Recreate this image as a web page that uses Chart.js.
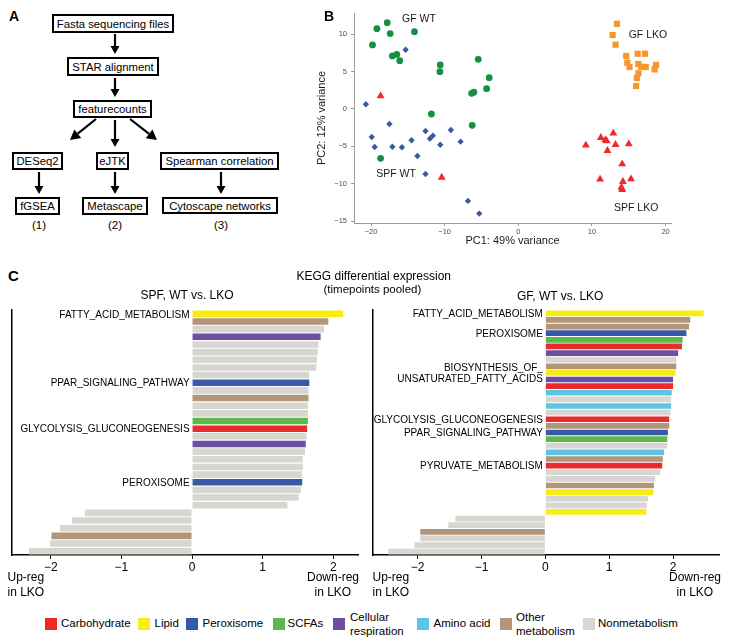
<!DOCTYPE html>
<html>
<head>
<meta charset="utf-8">
<script src="https://cdn.jsdelivr.net/npm/chart.js@4.4.1/dist/chart.umd.min.js"></script>
<style>
body { margin: 0; background: #fff; font-family: Arial, "Liberation Sans", sans-serif; }
#fig { position: relative; width: 733px; height: 644px; overflow: hidden; }
.t { position: absolute; white-space: nowrap; color: #000; line-height: 1; }
.box { position: absolute; border: 2px solid #000; box-sizing: border-box; font-size: 11.3px;
       display: flex; align-items: center; justify-content: center; white-space: nowrap; }
.sq { position: absolute; width: 12px; height: 12px; }
canvas { position: absolute; }
</style>
</head>
<body>
<div id="fig">
  <svg id="arrows" width="330" height="240" style="position:absolute;left:0;top:0"></svg>
  <canvas id="pca" width="433" height="250" style="left:300px;top:0"></canvas>
  <canvas id="spf" width="366" height="280" style="left:0;top:300px"></canvas>
  <canvas id="gf" width="366" height="280" style="left:366px;top:300px"></canvas>
</div>
<script>
// ---- panel B: PCA scores ----
var gfWtPC1  = [-19.2, -17.8, -17.4, -14.1, -19.8, -17.1, -16.5, -16.1, -10.6, -10.65, -5.44, -3.95, -4.3, -6.34, -6.03, -11.8, -6.26, -18.7];
var gfWtPC2  = [10.75, 11.55, 10.1, 10.35, 8.57, 7.1, 7.3, 6.47, 5.9, 5.0, 6.65, 4.19, 2.72, 2.1, 2.24, -0.67, -2.18, -6.6];
var spfWtPC1 = [-15.3, -20.7, -17.5, -19.9, -19.5, -17.1, -15.8, -14.5, -13.7, -12.6, -12.0, -11.6, -10.6, -9.16, -7.84, -12.6, -6.84, -5.3];
var spfWtPC2 = [7.94, 0.63, -2.0, -3.75, -5.09, -5.05, -5.13, -4.19, -6.29, -2.95, -3.97, -3.57, -4.78, -2.81, -4.37, -8.7, -12.3, -14.0];
var gfKoPC1  = [13.4, 12.8, 13.2, 14.65, 16.2, 17.2, 14.8, 15.1, 16.3, 16.65, 17.3, 18.7, 18.5, 16.3, 16.1, 16.0];
var gfKoPC2  = [11.4, 9.9, 8.61, 7.1, 7.4, 7.4, 6.2, 5.62, 6.02, 5.66, 5.62, 5.89, 5.31, 4.78, 4.15, 3.08];
var spfKoPC1 = [-18.7, -10.4, 9.17, 11.2, 11.8, 12.0, 12.9, 13.2, 15.0, 12.1, 14.1, 11.1, 14.2, 15.3, 14.0, 14.1];
var spfKoPC2 = [1.74, -9.15, -4.86, -3.84, -4.15, -4.28, -3.25, -4.78, -4.69, -5.58, -7.36, -9.41, -9.73, -9.37, -10.5, -10.8];
var pcaXTicks = [-20, -10, 0, 10, 20];
var pcaYTicks = [-15, -10, -5, 0, 5, 10];

// ---- panel C: KEGG pathway scores ----
var spfScores = [2.14, 1.93, 1.87, 1.82, 1.79, 1.78, 1.77, 1.76, 1.66, 1.66, 1.65, 1.65, 1.64, 1.64, 1.64, 1.63,
                 1.62, 1.61, 1.60, 1.57, 1.57, 1.56, 1.56, 1.54, 1.51, 1.35, -1.52, -1.70, -1.87, -1.99, -2.01, -2.31];
var spfClass = ['lip','oth','non','res','non','non','non','non','non','per','non','oth','non','non','scf','car',
                'non','res','non','non','non','non','per','non','non','non','non','non','non','oth','non','non'];
var spfNames = ['FATTY_ACID_METABOLISM','','','','','','','','','PPAR_SIGNALING_PATHWAY','','','','','','GLYCOLYSIS_GLUCONEOGENESIS',
                '','','','','','','PEROXISOME','','','','','','','','',''];

var gfScores = [2.48, 2.27, 2.25, 2.21, 2.15, 2.14, 2.08, 2.05, 2.05, 2.04, 2.00, 2.00, 1.98, 1.97, 1.97, 1.96, 1.94, 1.94,
                1.92, 1.91, 1.91, 1.86, 1.84, 1.83, 1.80, 1.72, 1.70, 1.69, 1.61, 1.59, 1.58, -1.41, -1.52, -1.96, -1.96, -2.05, -2.46];
var gfClass = ['lip','oth','oth','per','scf','car','res','non','oth','lip','res','car','ami','non','ami','non','car','oth',
               'per','scf','non','ami','oth','car','non','non','oth','lip','non','non','lip','non','non','oth','non','non','non'];
var gfNames = ['FATTY_ACID_METABOLISM','','','PEROXISOME','','','','','',['BIOSYNTHESIS_OF_','UNSATURATED_FATTY_ACIDS'],
               '','','','','','','GLYCOLYSIS_GLUCONEOGENESIS','','PPAR_SIGNALING_PATHWAY','','','','','PYRUVATE_METABOLISM',
               '','','','','','','','','','','','',''];
var barTicks = [-2, -1, 0, 1, 2];

var classKeys  = ['car','lip','per','scf','res','ami','oth','non'];
var classNames = ['Carbohydrate','Lipid','Peroxisome','SCFAs',['Cellular','respiration'],'Amino acid',['Other','metabolism'],'Nonmetabolism'];
var classColor = {car:'#ea2a2c', lip:'#f8ec14', per:'#3a58a8', scf:'#5cb947', res:'#6c4fa1', ami:'#5cc5e4', oth:'#b39679', non:'#d7d6d0'};

var FONT = 'Arial, "Liberation Sans", sans-serif';
Chart.defaults.font.family = FONT;
var fig = document.getElementById('fig');

function txt(s, x, cy, size, align, bold) {
  var d = document.createElement('div');
  d.className = 't';
  d.textContent = s;
  d.style.fontSize = size + 'px';
  d.style.top = (cy - size * 0.5) + 'px';
  if (bold) d.style.fontWeight = 'bold';
  fig.appendChild(d);
  var w = d.offsetWidth;
  d.style.left = (align === 'center' ? x - w / 2 : align === 'right' ? x - w : x) + 'px';
}

// ---- panel A flowchart ----
var boxes = [
  ['Fasta sequencing files', 52, 14, 122, 19],
  ['STAR alignment', 67, 57, 92, 19],
  ['featurecounts', 73, 100, 79, 18],
  ['DESeq2', 12, 152, 51, 18],
  ['eJTK', 96, 152, 33, 18],
  ['Spearman correlation', 160, 152, 119, 18],
  ['fGSEA', 15, 197, 45, 18],
  ['Metascape', 82, 197, 66, 18],
  ['Cytoscape networks', 162, 197, 116, 17]
];
boxes.forEach(function (b) {
  var d = document.createElement('div');
  d.className = 'box';
  d.textContent = b[0];
  d.style.left = b[1] + 'px'; d.style.top = b[2] + 'px';
  d.style.width = b[3] + 'px'; d.style.height = b[4] + 'px';
  fig.appendChild(d);
});
var arrows = [[115, 34, 115, 54], [115, 78, 115, 97], [96, 119, 70, 140], [115, 120, 115, 147], [130, 119, 157, 140],
              [39, 172, 39, 194], [115, 172, 115, 194], [221, 172, 221, 194]];
var svg = '';
arrows.forEach(function (a) {
  var dx = a[2] - a[0], dy = a[3] - a[1], L = Math.sqrt(dx * dx + dy * dy);
  var ux = dx / L, uy = dy / L, hl = dx ? 10 : 8, hw = dx ? 5.5 : 4.5;
  var bx = a[2] - ux * hl, by = a[3] - uy * hl;
  svg += '<line x1="' + a[0] + '" y1="' + a[1] + '" x2="' + bx + '" y2="' + by + '" stroke="#000" stroke-width="2.2"/>';
  svg += '<polygon fill="#000" points="' + a[2] + ',' + a[3] + ' ' + (bx - uy * hw) + ',' + (by + ux * hw) + ' ' + (bx + uy * hw) + ',' + (by - ux * hw) + '"/>';
});
document.getElementById('arrows').innerHTML = svg;
txt('(1)', 39, 226, 11.5, 'center');
txt('(2)', 115, 226, 11.5, 'center');
txt('(3)', 221, 226, 11.5, 'center');
txt('A', 9, 16, 14, 'left', true);
txt('B', 324, 16, 14, 'left', true);

// ---- panel B chart ----
function pts(xs, ys) { return xs.map(function (v, i) { return {x: v, y: ys[i]}; }); }
var groupNotes = [
  {text: 'GF WT', x: -13.5, y: 12.0},
  {text: 'GF LKO', x: 17.6, y: 9.95},
  {text: 'SPF WT', x: -16.6, y: -8.7},
  {text: 'SPF LKO', x: 16.0, y: -13.2}
];
var groupLabelPlugin = {
  id: 'groupLabels',
  afterDatasetsDraw: function (chart) {
    var ctx = chart.ctx, xs = chart.scales.x, ys = chart.scales.y;
    ctx.save();
    ctx.font = '10.5px ' + FONT;
    ctx.fillStyle = '#1a1a1a';
    ctx.textAlign = 'center';
    ctx.textBaseline = 'middle';
    groupNotes.forEach(function (g) { ctx.fillText(g.text, xs.getPixelForValue(g.x), ys.getPixelForValue(g.y)); });
    ctx.restore();
  }
};
var axisGray = '#9a9a9a';
new Chart(document.getElementById('pca'), {
  type: 'scatter',
  data: {
    datasets: [
      {data: pts(gfWtPC1, gfWtPC2), pointStyle: 'circle', pointRadius: 3.4, backgroundColor: '#139140', borderWidth: 0},
      {data: pts(spfWtPC1, spfWtPC2), pointStyle: 'rectRot', pointRadius: 3.2, backgroundColor: '#3a58a8', borderWidth: 0},
      {data: pts(gfKoPC1, gfKoPC2), pointStyle: 'rect', pointRadius: 4.4, backgroundColor: '#f7962f', borderWidth: 0},
      {data: pts(spfKoPC1, spfKoPC2), pointStyle: 'triangle', pointRadius: 4.6, backgroundColor: '#ee2a2a', borderWidth: 0}
    ]
  },
  options: {
    responsive: false, animation: false,
    layout: {padding: {left: 0, top: 13, right: 62, bottom: 0}},
    plugins: {legend: {display: false}, tooltip: {enabled: false}},
    scales: {
      x: {
        type: 'linear', min: -22.31, max: 20.73,
        afterBuildTicks: function (s) { s.ticks = pcaXTicks.map(function (v) { return {value: v}; }); },
        afterFit: function (s) { s.height = 27; },
        grid: {drawOnChartArea: false, tickLength: 3, color: axisGray},
        border: {color: axisGray, width: 1},
        ticks: {font: {size: 7.5}, color: '#4d4d4d', padding: 1,
                callback: function (v) { return v < 0 ? '\u2212' + Math.abs(v) : '' + v; }},
        title: {display: true, text: 'PC1: 49% variance', font: {size: 11}, color: '#1a1a1a', padding: {top: 0, bottom: 2.4}}
      },
      y: {
        type: 'linear', min: -15.26, max: 12.85,
        afterBuildTicks: function (s) { s.ticks = pcaYTicks.map(function (v) { return {value: v}; }); },
        afterFit: function (s) { s.width = 54; },
        grid: {drawOnChartArea: false, tickLength: 3, color: axisGray},
        border: {color: axisGray, width: 1},
        ticks: {font: {size: 7.5}, color: '#4d4d4d', padding: 4,
                callback: function (v) { return v < 0 ? '\u2212' + Math.abs(v) : '' + v; }},
        title: {display: true, text: 'PC2: 12% variance', font: {size: 11}, color: '#1a1a1a', padding: {top: 15.4, bottom: 0}}
      }
    }
  },
  plugins: [groupLabelPlugin]
});

// ---- panel C charts ----
var rowLabelPlugin = {
  id: 'rowLabels',
  afterDatasetsDraw: function (chart) {
    var ctx = chart.ctx, xs = chart.scales.x, ys = chart.scales.y;
    var x0 = xs.getPixelForValue(0) - 2.5;
    ctx.save();
    ctx.font = '10px ' + FONT;
    ctx.fillStyle = '#000';
    ctx.textAlign = 'right';
    ctx.textBaseline = 'middle';
    chart.data.labels.forEach(function (n, i) {
      if (!n) return;
      var lines = Array.isArray(n) ? n : [n];
      var y = ys.getPixelForValue(i);
      lines.forEach(function (l, k) { ctx.fillText(l, x0, y + 1 + (k - (lines.length - 1) / 2) * 11.4); });
    });
    ctx.restore();
  }
};

function barChart(id, names, scores, classes, min, max, padL, padR) {
  return new Chart(document.getElementById(id), {
    type: 'bar',
    data: {
      labels: names,
      datasets: [{
        data: scores,
        backgroundColor: classes.map(function (c) { return classColor[c]; }),
        barPercentage: 0.86, categoryPercentage: 1, borderWidth: 0
      }]
    },
    options: {
      indexAxis: 'y', responsive: false, animation: false,
      layout: {padding: {left: padL, right: padR, top: 10, bottom: 0}},
      plugins: {legend: {display: false}, tooltip: {enabled: false}},
      scales: {
        x: {
          type: 'linear', min: min, max: max,
          afterBuildTicks: function (s) { s.ticks = barTicks.map(function (v) { return {value: v}; }); },
          afterFit: function (s) { s.height = 25; },
          grid: {drawOnChartArea: false, tickLength: 4, color: '#000'},
          border: {color: '#000', width: 1.5},
          ticks: {font: {size: 12}, color: '#000', padding: 1,
                  callback: function (v) { return v < 0 ? '\u2212' + Math.abs(v) : '' + v; }}
        },
        y: {
          type: 'category',
          afterFit: function (s) { s.width = 0; },
          ticks: {display: false},
          grid: {display: false},
          border: {display: true, color: '#000', width: 1.5}
        }
      }
    },
    plugins: [rowLabelPlugin]
  });
}
barChart('spf', spfNames, spfScores, spfClass, -2.55, 2.35, 12, 8);
barChart('gf', gfNames, gfScores, gfClass, -2.70, 2.72, 7, 13);

txt('C', 8, 275, 15, 'left', true);
txt('KEGG differential expression', 374, 276, 12, 'center');
txt('(timepoints pooled)', 372.5, 289.5, 11.5, 'center');
txt('SPF, WT vs. LKO', 187, 295, 12, 'center');
txt('GF, WT vs. LKO', 560, 295.5, 12, 'center');
[[26, 'Up-reg'], [333, 'Down-reg'], [391, 'Up-reg'], [695, 'Down-reg']].forEach(function (p) {
  txt(p[1], p[0], 577, 12, 'center');
  txt('in LKO', p[0], 591.5, 12, 'center');
});

// legend
var legendX = [[45, 61], [138, 154.5], [186, 202.5], [273, 287.5], [333, 350], [417, 433.5], [499.5, 516], [582.5, 598]];
classKeys.forEach(function (k, i) {
  var s = document.createElement('div');
  s.className = 'sq';
  s.style.left = legendX[i][0] + 'px';
  s.style.top = '618px';
  s.style.background = classColor[k];
  fig.appendChild(s);
  var n = classNames[i];
  if (Array.isArray(n)) {
    txt(n[0], legendX[i][1], 617.5, 11.5, 'left');
    txt(n[1], legendX[i][1], 631.5, 11.5, 'left');
  } else {
    txt(n, legendX[i][1], 624, 11.5, 'left');
  }
});
</script>
</body>
</html>
